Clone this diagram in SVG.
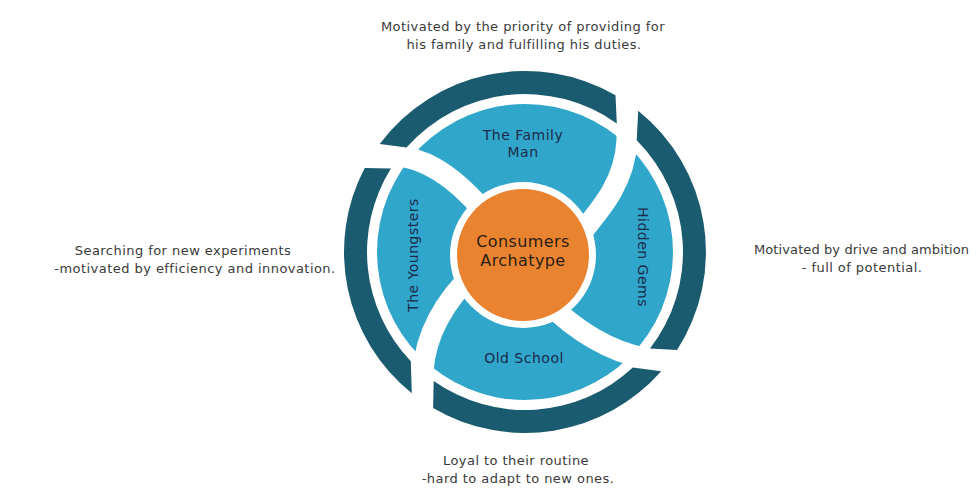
<svg xmlns="http://www.w3.org/2000/svg" width="978" height="491" viewBox="0 0 978 491">
  <style>
    .desc { font-family: "DejaVu Sans", "Liberation Sans", sans-serif; font-size: 13px; fill: #3a3a3a; letter-spacing: 0.45px; }
    .label { font-family: "DejaVu Sans", "Liberation Sans", sans-serif; font-size: 14px; fill: #1c2b4b; text-anchor: middle; letter-spacing: 0.5px; }
    .core-label { font-family: "DejaVu Sans", "Liberation Sans", sans-serif; font-size: 16px; fill: #2a1e14; text-anchor: middle; letter-spacing: 0.4px; }
    .segment { fill: #31a6cb; }
    .ring { fill: #1b5b6f; }
    .separator { fill: none; stroke: #ffffff; stroke-width: 21; stroke-linecap: butt; stroke-linejoin: round; }
  </style>
  <defs>
    <!-- wedge regions bounded by the separator centrelines -->
    <clipPath id="clip-family">
      <path d="M523,255 L483,210 C448,170 420,157 395,156 L300,153 L300,30 L627,30 L627,140 C625,180 605,205 576,239 Z"/>
    </clipPath>
    <clipPath id="clip-gems">
      <path d="M523,255 L576,239 C605,205 625,180 627,140 L627,30 L800,30 L800,361 L700,361 L645,358 C610,352 575,330 548,303 Z"/>
    </clipPath>
    <clipPath id="clip-oldschool">
      <path d="M523,255 L548,303 C575,330 610,352 645,358 L700,361 L700,470 L422,470 L422,430 L423,372 C425,335 445,300 475,272 Z"/>
    </clipPath>
    <clipPath id="clip-youngsters">
      <path d="M523,255 L475,272 C445,300 425,335 423,372 L422,470 L250,470 L250,153 L300,153 L395,156 C420,157 448,170 483,210 Z"/>
    </clipPath>
  </defs>

  <rect width="978" height="491" fill="#ffffff"/>

  <!-- segments of the inner wheel -->
  <g id="family-man">
    <circle class="segment" cx="525" cy="252" r="148" clip-path="url(#clip-family)"/>
    <text class="label" x="523" y="140">The Family</text>
    <text class="label" x="523" y="157">Man</text>
  </g>
  <g id="hidden-gems">
    <circle class="segment" cx="525" cy="252" r="148" clip-path="url(#clip-gems)"/>
    <text class="label" transform="translate(638,257) rotate(90)">Hidden Gems</text>
  </g>
  <g id="old-school">
    <circle class="segment" cx="525" cy="252" r="148" clip-path="url(#clip-oldschool)"/>
    <text class="label" x="524" y="363">Old School</text>
  </g>
  <g id="youngsters">
    <circle class="segment" cx="525" cy="252" r="148" clip-path="url(#clip-youngsters)"/>
    <text class="label" transform="translate(418,255) rotate(-90)">The Youngsters</text>
  </g>

  <!-- white swirl arms between the segments -->
  <g id="separators">
    <path class="separator" d="M483,210 C448,170 420,157 395,156 L300,153"/>
    <path class="separator" d="M576,239 C605,205 625,180 627,140 L627,60"/>
    <path class="separator" d="M548,303 C575,330 610,352 645,358 L700,361"/>
    <path class="separator" d="M475,272 C445,300 425,335 423,372 L422,430"/>
  </g>

  <!-- outer ring in four pieces -->
  <g id="outer-ring">
    <path class="ring" d="M677.1,350.0 A181,181 0 0 0 638.2,110.8 L636.7,140.3 A158,158 0 0 1 650.0,348.6 Z"/>
    <path class="ring" d="M615.5,95.3 A181,181 0 0 0 379.7,144.1 L406.5,147.5 A158,158 0 0 1 616.8,123.4 Z"/>
    <path class="ring" d="M364.7,167.9 A181,181 0 0 0 411.8,393.2 L410.8,361.2 A158,158 0 0 1 390.9,168.5 Z"/>
    <path class="ring" d="M433.1,407.9 A181,181 0 0 0 661.2,371.2 L632.8,367.6 A158,158 0 0 1 433.7,380.9 Z"/>
  </g>

  <!-- centre -->
  <g id="consumers-archetype">
    <circle cx="523" cy="255" r="73" fill="#ffffff"/>
    <circle cx="523" cy="255" r="66" fill="#ea8330"/>
    <text class="core-label" x="523" y="247">Consumers</text>
    <text class="core-label" x="523" y="266">Archatype</text>
  </g>

  <!-- descriptions -->
  <g id="descriptions">
    <text class="desc" x="523" y="31" text-anchor="middle">Motivated by the priority of providing for</text>
    <text class="desc" x="524" y="49" text-anchor="middle">his family and fulfilling his duties.</text>

    <text class="desc" x="183" y="255" text-anchor="middle">Searching for new experiments</text>
    <text class="desc" x="195" y="273" text-anchor="middle">-motivated by efficiency and innovation.</text>

    <text class="desc" x="754" y="254" style="letter-spacing:0.1px">Motivated by drive and ambition</text>
    <text class="desc" x="862" y="272" text-anchor="middle">- full of potential.</text>

    <text class="desc" x="516" y="465" text-anchor="middle">Loyal to their routine</text>
    <text class="desc" x="518" y="483" text-anchor="middle">-hard to adapt to new ones.</text>
  </g>
</svg>
